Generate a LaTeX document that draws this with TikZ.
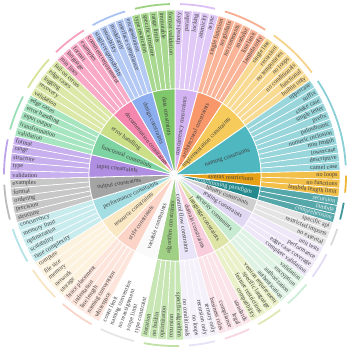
\documentclass[tikz,border=0pt]{standalone}
\usepackage{fontspec}
\setmainfont{Liberation Serif}
\newcount\lidx
\newif\iflbl
\def\Ri{86}\def\Ro{165}\def\Ra{171}
\newcommand\drawcat[7]{%
  \definecolor{cin}{HTML}{#2}\definecolor{clf}{HTML}{#3}%
  \definecolor{carc}{HTML}{#4}\definecolor{ctx}{HTML}{#5}%
  \pgfmathsetmacro\cS{90-\the\lidx*\dA}%
  \foreach \lf in {#7}{%
    \pgfmathsetmacro\aS{90-\the\lidx*\dA}%
    \pgfmathsetmacro\aE{\aS-\dA}%
    \pgfmathsetmacro\aM{\aS-\dA/2}%
    \iflbl
      \pgfmathtruncatemacro\side{cos(\aM)>=0}%
      \ifnum\side=1
        \node[lbl, text=ctx, rotate=\aM, anchor=east] (#1-\the\lidx) at (\aM:163) {\lf};
      \else
        \pgfmathsetmacro\rr{\aM+180}%
        \node[lbl, text=ctx, rotate=\rr, anchor=west] (#1-\the\lidx) at (\aM:163) {\lf};
      \fi
    \else
      \fill[clf, draw=white, line width=0.6pt] (\aS:\Ri) arc[start angle=\aS, end angle=\aE, radius=\Ri] -- (\aE:\Ro) arc[start angle=\aE, end angle=\aS, radius=\Ro] -- cycle;
    \fi
    \global\advance\lidx by 1
  }%
  \pgfmathsetmacro\cE{90-\the\lidx*\dA}%
  \pgfmathsetmacro\cM{(\cS+\cE)/2}%
  \iflbl
    \pgfmathtruncatemacro\side{cos(\cM)>=0}%
    \ifnum\side=1
      \node[lbl, text=ctx, rotate=\cM, anchor=east] (#1) at (\cM:79) {#6};
    \else
      \pgfmathsetmacro\rr{\cM+180}%
      \node[lbl, text=ctx, rotate=\rr, anchor=west] (#1) at (\cM:79) {#6};
    \fi
  \else
    \fill[cin, draw=white, line width=0.8pt] (0,0) -- (\cS:\Ri) arc[start angle=\cS, end angle=\cE, radius=\Ri] -- cycle;
    \pgfmathsetmacro\gS{\cS-1.7}\pgfmathsetmacro\gE{\cE+1.7}%
    \draw[carc, line width=1.8pt] (\gS:\Ra) arc[start angle=\gS, end angle=\gE, radius=\Ra];
  \fi
}
\newcommand\allcats{%
\drawcat{conc}{D3B3F1}{E0C9F6}{DCC0F5}{404040}{concurrency constraints}{thread safety,parallel,locking,atomicity,async}
\drawcat{arch}{F8976A}{FAB497}{F7AE90}{404040}{architectural constraints}{single function,no globals,no comments,modular,line limit,lambda only}
\drawcat{impl}{F6CB5C}{F8DA93}{F5D38A}{404040}{implementation constraints}{single line,recursion,no temporaries,no loops,no conditionals,functional,builtin only}
\drawcat{name}{4EB7C0}{98D6DB}{8ACFD5}{404040}{naming constraints}{uppercase,suffix,snake case,single letter,prefix,palindromic,numeric inclusion,min length,lowercase,descriptive,camel case}
\drawcat{synt}{E6A116}{F2BF48}{EDB535}{404040}{syntax restrictions}{no loops,no functions,lambda length limit}
\drawcat{para}{24898D}{56A7AA}{3E989B}{F2F2F2}{programming paradigm}{recursion,lambda,comprehension}
\drawcat{lib}{CFCFCF}{E4E4E4}{D9D9D9}{404040}{library constraints}{specific api,restricted imports,no external}
\drawcat{test}{E0D7F3}{EDE7F8}{E3DCF4}{404040}{testing constraints}{unit tests,performance,edge case coverage,complete validation}
\drawcat{sec}{C6EBD0}{DEF3E4}{CDEDD6}{404040}{security constraints}{validation,encryption,authorization,authentication}
\drawcat{lang}{DDE4A5}{EAF0C7}{E0E7B2}{404040}{language constraints}{version requirement,specific language,feature restrictions,compatibility}
\drawcat{dom}{F8CEDC}{FBE3EA}{F8D6E1}{404040}{domain constraints}{standards,legal,compliance,business rules}
\drawcat{ctrl}{E9E4F7}{F4F1FB}{E7E2F5}{404040}{control flow constraints}{ternary only,recursion only,no loops,no conditionals}
\drawcat{algo}{A0D085}{C7E6B4}{C0E0A5}{404040}{algorithm constraints}{specific algorithm,recursion,optimization,no builtin,iteration}
\drawcat{var}{FAFAFA}{FFFFFF}{E6E6E6}{404040}{variable constraints}{type constraint,scope limit,no reassignment,naming convention,count limit}
\drawcat{style}{FBD4C7}{FDE5DB}{F9D5C9}{404040}{style constraints}{whitespace,naming convention,line length,indentation,brace placement}
\drawcat{res}{FAE8C4}{FDF2DD}{F8E5C3}{404040}{resource constraints}{storage,network,memory,file size,compute}
\drawcat{perf}{A5DEE2}{C8EBEE}{B5E3E7}{404040}{performance constraints}{time complexity,scalability,optimization,memory limit,concurrency}
\drawcat{out}{A4A4A4}{C7C7C7}{BBBBBB}{404040}{output constraints}{structure,precision,ordering,format,examples}
\drawcat{inp}{B08EE2}{C8B0EE}{BEA3EA}{404040}{input constraints}{validation,type,structure,range,format}
\drawcat{func}{7DD3A1}{A7E5C0}{9ADFB6}{404040}{functional constraints}{validation,transformation,input output,error handling,edge cases}
\drawcat{err}{CBDF88}{DCE8A7}{D5E39B}{404040}{error handling}{validation,recovery,logging,edge cases,fail-on errors}
\drawcat{doc}{F587AE}{F8AAC6}{F6A1C0}{404040}{documentation constraints}{min lines,language,format,examples,comment requirement}
\drawcat{des}{8CAEEE}{B4C9F4}{ABC3F2}{404040}{design constraints}{single responsibility,reusability,modularity,interface compliance,encapsulation}
\drawcat{data}{80C66B}{A9D990}{9DD383}{404040}{data constraints}{type restriction,specific structure,range limits,immutable,format validation}
}
\begin{document}
\begin{tikzpicture}[x=1pt,y=1pt,
  lbl/.style={font=\fontsize{6.2}{7}\selectfont, inner sep=0.2pt}]
\useasboundingbox (-175,-174) rectangle (174,175);
\pgfmathsetmacro\dA{360/118}
\global\lidx=0
\lblfalse
\allcats
\global\lidx=0
\lbltrue
\allcats
\end{tikzpicture}
\end{document}
